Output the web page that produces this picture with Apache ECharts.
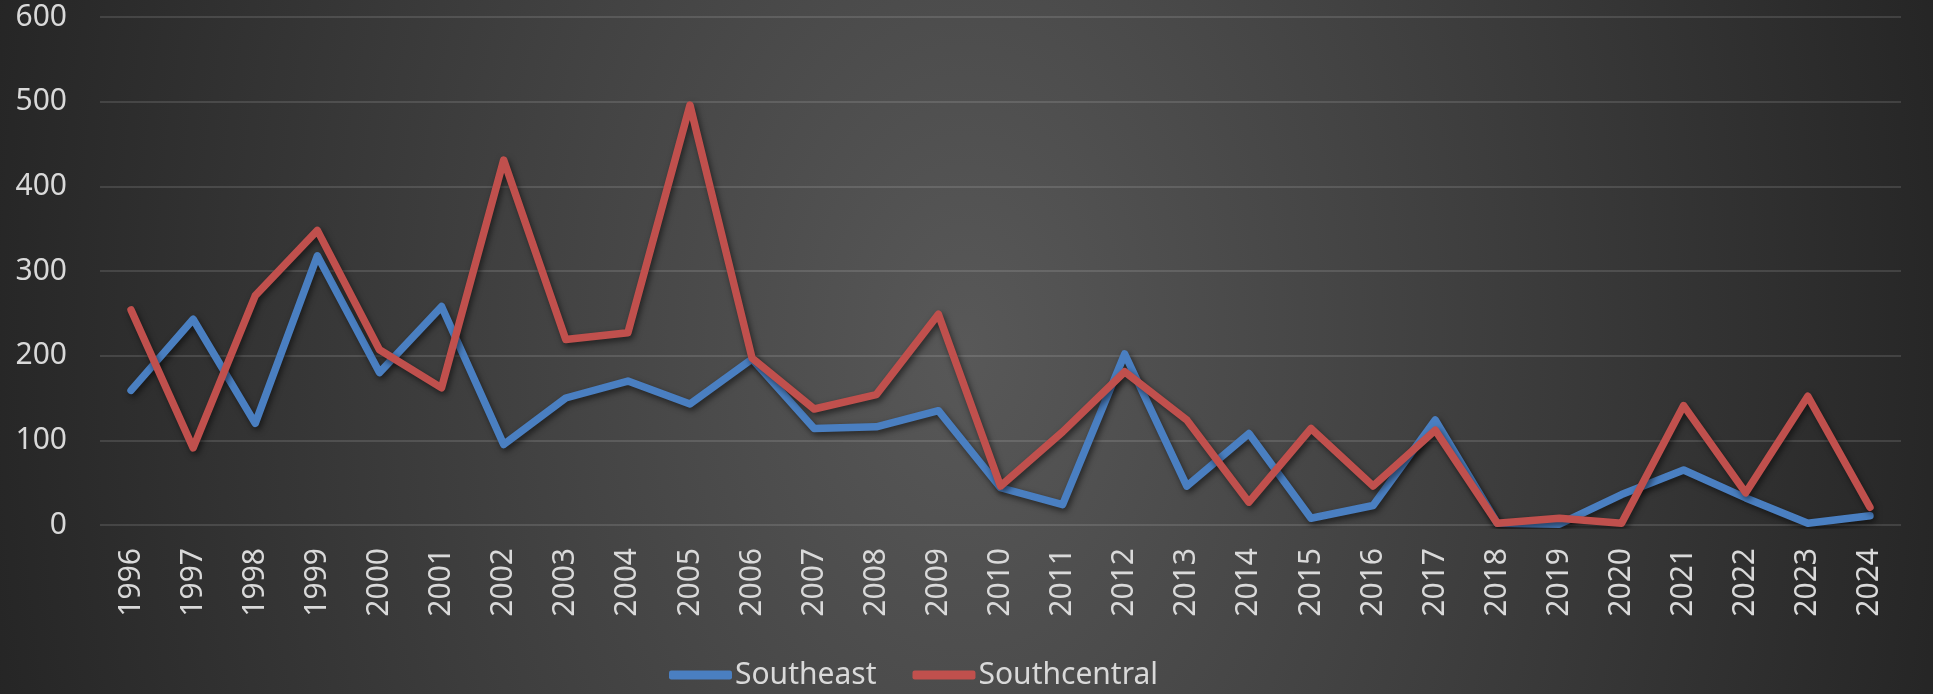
<!DOCTYPE html>
<html>
<head>
<meta charset="utf-8">
<script src="https://cdn.jsdelivr.net/npm/echarts@6/dist/echarts.min.js"></script>
<style>
  html, body { margin: 0; padding: 0; }
  #myChart {
    width: 1933px;
    height: 694px;
    /* dark excel-like background, lighter in the middle */
    background: radial-gradient(ellipse 52% 220% at 50% 50%, #585858 0%, #252525 100%);
  }
</style>
</head>
<body>
<div id="myChart"></div>
<script>
// years on the x axis
const years = ['1996','1997','1998','1999','2000','2001','2002','2003','2004','2005',
  '2006','2007','2008','2009','2010','2011','2012','2013','2014','2015',
  '2016','2017','2018','2019','2020','2021','2022','2023','2024'];

// Southeast
const southeast = [159, 243, 120, 318, 180, 258, 95, 150, 170, 143,
  196, 114, 116, 135, 44, 24, 202, 46, 108, 8,
  23, 124, 2, 1, 36, 65, 32, 2, 11];

// Southcentral
const southcentral = [254, 91, 271, 348, 207, 162, 431, 219, 227, 496,
  197, 137, 154, 249, 46, 110, 181, 124, 27, 114,
  46, 112, 2, 8, 2, 141, 38, 152, 21];

const yTicks = { min: 0, max: 600, interval: 100 };

const labelFont = 'Noto Sans';
const labelColor = '#d9d9d9';

let myChart = echarts.init(document.getElementById('myChart'));

function lineSeries(name, data, color) {
  return {
    name: name,
    type: 'line',
    data: data,
    symbol: 'none',
    lineStyle: {
      color: color,
      width: 7.5,
      cap: 'round',
      join: 'round',
      shadowColor: 'rgba(0,0,0,0.55)',
      shadowBlur: 6,
      shadowOffsetX: 2,
      shadowOffsetY: 3
    },
    itemStyle: { color: color }
  };
}

myChart.setOption({
  backgroundColor: 'transparent',
  animation: false,
  textStyle: { fontFamily: labelFont },
  grid: {
    left: 100,
    right: 32,
    top: 17,
    bottom: 169
  },
  legend: {
    left: 664,
    top: 655,
    icon: 'roundRect',
    itemWidth: 63,
    itemHeight: 9,
    itemGap: 36,
    textStyle: { color: labelColor, fontSize: 30, fontFamily: labelFont, padding: [0, 0, 0, -2] },
    data: ['Southeast', 'Southcentral']
  },
  xAxis: {
    type: 'category',
    data: years,
    boundaryGap: true,
    axisLine: { show: false },
    axisTick: { show: false },
    axisLabel: {
      rotate: 90,
      margin: 23,
      interval: 0,
      color: labelColor,
      fontSize: 30,
      fontFamily: labelFont
    }
  },
  yAxis: {
    type: 'value',
    min: yTicks.min,
    max: yTicks.max,
    interval: yTicks.interval,
    axisLine: { show: false },
    axisTick: { show: false },
    axisLabel: {
      margin: 33,
      color: labelColor,
      fontSize: 30,
      fontFamily: labelFont
    },
    splitLine: {
      lineStyle: { color: 'rgba(255,255,255,0.12)', width: 2 }
    }
  },
  series: [
    lineSeries('Southeast', southeast, '#4a7fc1'),
    lineSeries('Southcentral', southcentral, '#c0504d')
  ]
});
</script>
</body>
</html>
